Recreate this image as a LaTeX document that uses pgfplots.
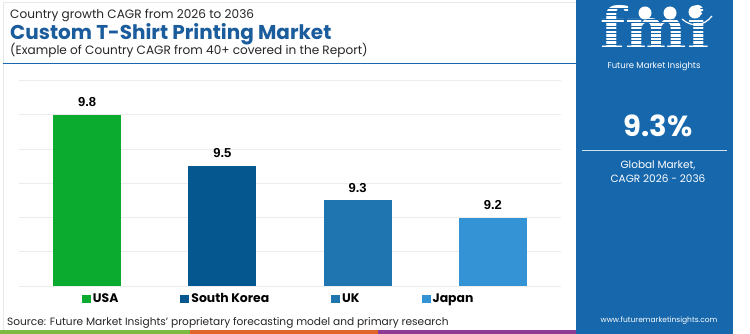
\documentclass[border=0pt]{standalone}
\usepackage{fontspec}
\setmainfont{Poppins}
\newfontfamily\arialfont{Liberation Sans}
\newfontfamily\logofont{DejaVu Serif}
\usepackage{pgfplots}
\pgfplotsset{compat=1.18}
\definecolor{cUSA}{HTML}{0AAB2E}
\definecolor{cSK}{HTML}{05578F}
\definecolor{cUK}{HTML}{1F75B0}
\definecolor{cJP}{HTML}{3393D4}
\definecolor{panel}{HTML}{1667AC}
\definecolor{titleblue}{HTML}{1B5C9C}
\definecolor{gridc}{HTML}{ECECEC}
\definecolor{sgreen}{HTML}{7DBA43}
\definecolor{sorange}{HTML}{E0652D}
\definecolor{spurple}{HTML}{8D3B94}
\begin{document}
\begin{tikzpicture}[x=1pt,y=1pt]
\useasboundingbox (0,0) rectangle (750,334);
\fill[white] (0,0) rectangle (750,334);
% frame
\draw[gray!18, line width=0.8pt] (3,4) -- (3,332) -- (576,332);
% panel
\fill[panel] (576,0) rectangle (733,334);
% bottom strip
\fill[sgreen] (0,0) rectangle (190,4);
\fill[sorange] (190,0) rectangle (378,4);
\fill[spurple] (378,0) rectangle (576,4);
% titles
\node[anchor=base west, inner sep=0pt, font=\fontsize{12.1}{14}\selectfont, text=black!85] at (10,315.7) {Country growth CAGR from 2026 to 2036};
\node[anchor=base west, inner sep=0pt, font=\fontsize{20}{22}\selectfont\bfseries, text=titleblue] at (10,294.7) {Custom T-Shirt Printing Market};
\node[anchor=base west, inner sep=0pt, font=\fontsize{12.1}{14}\selectfont, text=black!85] at (10,279) {(Example of Country CAGR from 40+ covered in the Report)};
% blue rule
\draw[panel, line width=1.3pt] (3,270.7) -- (576,270.7);
% source
\node[anchor=base west, inner sep=0pt, font=\fontsize{10.6}{12}\selectfont, text=black!85] at (7,8.3) {Source: Future Market Insights’ proprietary forecasting model and primary research};
% logo
\node[anchor=base, inner sep=0pt, font=\fontsize{58}{60}\selectfont\logofont\bfseries, text=white] at (655,284) {fmi};
\foreach \yy in {286,289.6,...,328} {\draw[panel, line width=1.1pt] (596,\yy) -- (716,\yy);}
\fill[white] (645,321) circle (6.5);
\fill[white] (670,321) circle (6.5);
\fill[white] (695,322) circle (6.5);
\draw[white, line width=1.2pt] (682,315) .. controls (692,306) and (704,308) .. (712,318);
\node[anchor=base, inner sep=0pt, font=\fontsize{8.5}{10}\selectfont, text=white] at (654,265.7) {Future Market Insights};
% panel texts
\node[anchor=base, inner sep=0pt, font=\fontsize{29}{32}\selectfont\bfseries, text=white] at (658,197.3) {9.3\%};
\draw[white!80!panel, line width=1pt] (582,183.3) -- (727,183.3);
\node[anchor=base, inner sep=0pt, font=\fontsize{10.5}{12}\selectfont, text=white] at (658,165.7) {Global Market,};
\node[anchor=base, inner sep=0pt, font=\fontsize{10.5}{12}\selectfont, text=white] at (658,151.7) {CAGR 2026 - 2036};
\node[anchor=base, inner sep=0pt, font=\fontsize{7.5}{9}\selectfont, text=white] at (659,11.7) {www.futuremarketinsights.com};
\begin{axis}[
  at={(19.5pt,48pt)}, anchor=south west, scale only axis,
  width=541pt, height=205.3pt,
  xmin=-0.5, xmax=3.5, ymin=8.8, ymax=10.0,
  ybar, bar width=68pt,
  axis line style={draw=none},
  xtick=\empty,
  ytick={8.8,9.0,9.2,9.4,9.6,9.8,10.0},
  yticklabels={},
  major tick length=0pt,
  ymajorgrids, major grid style={gridc, line width=0.9pt},
  nodes near coords,
  nodes near coords style={font=\fontsize{13}{14}\selectfont\arialfont\bfseries, text=black, anchor=south, inner sep=0pt, yshift=8pt, /pgf/number format/.cd, fixed, precision=1, fixed zerofill, assume math mode=true},
  legend image code/.code={\fill[#1] (0pt,-4.4pt) rectangle (9pt,4.4pt);},
  legend style={at={(0.479,-0.063)}, anchor=center, draw=none, fill=none,
    font=\fontsize{12.4}{14}\selectfont\bfseries, legend columns=4,
    cells={anchor=west, text height=8.7pt, text depth=0pt, inner sep=2pt},
    /tikz/every even column/.append style={column sep=60pt}},
]
\addplot[bar shift=0pt, fill=cUSA, draw=none] coordinates {(0,9.8)};
\addlegendentry{USA}
\addplot[bar shift=0pt, fill=cSK, draw=none] coordinates {(1,9.5)};
\addlegendentry{South Korea}
\addplot[bar shift=0pt, fill=cUK, draw=none] coordinates {(2,9.3)};
\addlegendentry{UK}
\addplot[bar shift=0pt, fill=cJP, draw=none] coordinates {(3,9.2)};
\addlegendentry{Japan}
\end{axis}
\end{tikzpicture}
\end{document}
